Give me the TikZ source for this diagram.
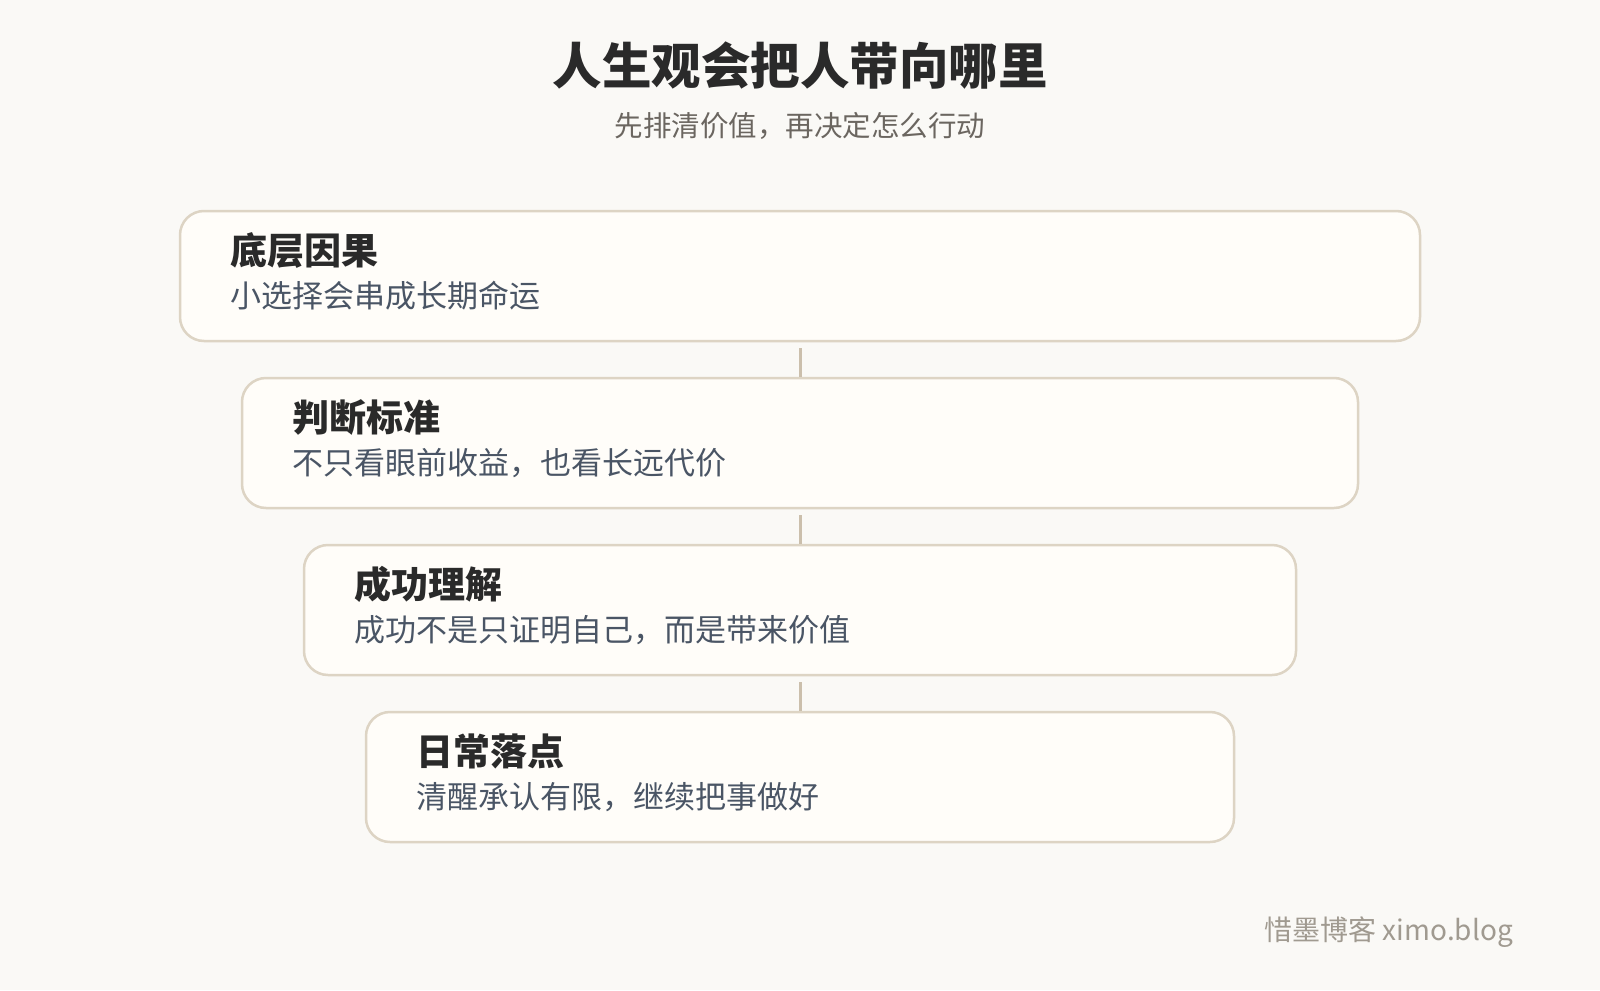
\documentclass[tikz,border=0pt]{standalone}
\usepackage{fontspec}
\setmainfont{Noto Sans CJK SC}
\definecolor{pagebg}{HTML}{FAF9F6}
\definecolor{stagefill}{HTML}{FFFDF9}
\definecolor{stageline}{HTML}{DDD4C4}
\definecolor{linkline}{HTML}{CBBFAC}
\definecolor{headink}{HTML}{2A2A2A}
\definecolor{noteink}{HTML}{4A5565}
\definecolor{subink}{HTML}{6B6660}
\definecolor{markink}{HTML}{A09A90}

\begin{document}
\begin{tikzpicture}[x=1pt,y=-1pt,
    stage/.style={draw=stageline,line width=2.5pt,fill=stagefill,rounded corners=24pt,minimum height=130pt,inner sep=0pt},
    stagehead/.style={anchor=west,inner sep=0pt,text=headink,font=\fontsize{37}{44}\selectfont\bfseries},
    stagenote/.style={anchor=west,inner sep=0pt,text=noteink,font=\fontsize{31}{38}\selectfont},
    link/.style={draw=linkline,line width=3pt,shorten <=6pt}]
        \fill[pagebg] (0,0) rectangle (1600,990);
        \useasboundingbox (0,0) rectangle (1600,990);
        \coordinate (top) at (800,66);
        \coordinate (sub) at (800,126);
        \coordinate (s1) at (800,276);
        \coordinate (s2) at (800,443);
        \coordinate (s3) at (800,610);
        \coordinate (s4) at (800,777);
        \coordinate (mark) at (1513,932);
        \node[inner sep=0pt,text=headink,font=\fontsize{49.5}{58}\selectfont\bfseries] (Title) at (top){人生观会把人带向哪里};
        \node[inner sep=0pt,text=subink,font=\fontsize{28.5}{34}\selectfont] (Subtitle) at (sub){先排清价值，再决定怎么行动};
        \node[stage,minimum width=1240pt] (Stage1) at (s1){};
        \node[stage,minimum width=1116pt] (Stage2) at (s2){};
        \node[stage,minimum width=992pt] (Stage3) at (s3){};
        \node[stage,minimum width=868pt] (Stage4) at (s4){};
        \node[stagehead] (Head1) at ([xshift=52pt,yshift=26pt]Stage1.west){底层因果};
        \node[stagenote] (Note1) at ([xshift=52pt,yshift=-20pt]Stage1.west){小选择会串成长期命运};
        \node[stagehead] (Head2) at ([xshift=52pt,yshift=26pt]Stage2.west){判断标准};
        \node[stagenote] (Note2) at ([xshift=52pt,yshift=-20pt]Stage2.west){不只看眼前收益，也看长远代价};
        \node[stagehead] (Head3) at ([xshift=52pt,yshift=26pt]Stage3.west){成功理解};
        \node[stagenote] (Note3) at ([xshift=52pt,yshift=-20pt]Stage3.west){成功不是只证明自己，而是带来价值};
        \node[stagehead] (Head4) at ([xshift=52pt,yshift=26pt]Stage4.west){日常落点};
        \node[stagenote] (Note4) at ([xshift=52pt,yshift=-20pt]Stage4.west){清醒承认有限，继续把事做好};
        \draw[link] (Stage1.south) -- (Stage2.north);
        \draw[link] (Stage2.south) -- (Stage3.north);
        \draw[link] (Stage3.south) -- (Stage4.north);
        \node[anchor=east,inner sep=0pt,text=markink,font=\fontsize{28}{34}\selectfont] (Mark) at (mark){惜墨博客 ximo.blog};
    \end{tikzpicture}
\end{document}
